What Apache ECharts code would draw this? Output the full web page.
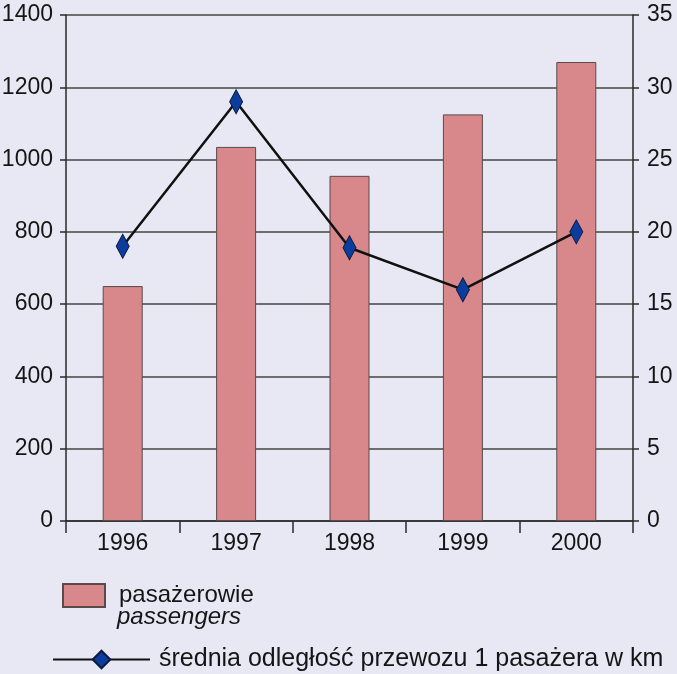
<!DOCTYPE html>
<html>
<head>
<meta charset="utf-8">
<script src="https://cdn.jsdelivr.net/npm/echarts@6/dist/echarts.min.js"></script>
<style>
html,body{margin:0;padding:0;background:#e7e8f4;}
#c{width:677px;height:674px;}
</style>
</head>
<body>
<div id="c"></div>
<script>
var years = ['1996', '1997', '1998', '1999', '2000'];
var passengers = [650, 1035, 955, 1125, 1270];
var avgDistance = [19, 29, 18.9, 16, 20];
var leftTicks = {min: 0, max: 1400, interval: 200};
var rightTicks = {min: 0, max: 35, interval: 5};
var barName = 'pasażerowie';
var barNameEn = 'passengers';
var lineName = 'średnia odległość przewozu 1 pasażera w km';

var FONT = 'Liberation Sans, Arial, sans-serif';
var plain = function (v) { return String(v); };
var chart = echarts.init(document.getElementById('c'), null, {renderer: 'canvas'});
chart.setOption({
  backgroundColor: '#e7e8f4',
  animation: false,
  grid: {left: 66, right: 44, top: 15, bottom: 153, containLabel: false, outerBoundsMode: 'none'},
  xAxis: {
    type: 'category',
    data: years,
    axisLine: {lineStyle: {color: '#2a2a2a', width: 1.5}},
    axisTick: {show: true, length: 12, lineStyle: {color: '#2a2a2a', width: 1.5}},
    axisLabel: {fontFamily: FONT, fontSize: 23, color: '#151515', margin: 11}
  },
  yAxis: [{
    type: 'value',
    min: leftTicks.min, max: leftTicks.max, interval: leftTicks.interval,
    axisLine: {show: true, lineStyle: {color: '#2a2a2a', width: 1.5}},
    axisTick: {show: true, length: 6, lineStyle: {color: '#2a2a2a', width: 1.5}},
    axisLabel: {fontFamily: FONT, fontSize: 23, color: '#151515', margin: 13, formatter: plain},
    splitLine: {show: true, lineStyle: {color: '#444', width: 1.6}}
  }, {
    type: 'value',
    position: 'right',
    min: rightTicks.min, max: rightTicks.max, interval: rightTicks.interval,
    axisLine: {show: true, lineStyle: {color: '#2a2a2a', width: 1.5}},
    axisTick: {show: true, length: 6, lineStyle: {color: '#2a2a2a', width: 1.5}},
    axisLabel: {fontFamily: FONT, fontSize: 23, color: '#151515', margin: 14, formatter: plain},
    splitLine: {show: false}
  }],
  legend: [{
    data: [{name: barName, icon: 'rect'}],
    orient: 'vertical',
    left: 62, top: 583, padding: 0,
    itemWidth: 42, itemHeight: 23,
    textStyle: {fontFamily: FONT, fontSize: 24, color: '#151515', padding: [0, 0, 0, 9]}
  }, {
    data: [lineName],
    orient: 'vertical',
    left: 52, top: 647, padding: 0,
    itemWidth: 97, itemHeight: 22,
    textStyle: {fontFamily: FONT, fontSize: 25, color: '#151515', padding: [0, 0, 0, 4]}
  }],
  graphic: [{
    type: 'text',
    left: 117, top: 605,
    style: {text: barNameEn, fontFamily: FONT, fontSize: 24, fontStyle: 'italic', fill: '#151515'}
  }],
  series: [{
    name: barName,
    type: 'bar',
    data: passengers,
    barWidth: 40,
    yAxisIndex: 0,
    itemStyle: {color: '#d8878a', borderColor: '#5a4a4a', borderWidth: 1}
  }, {
    name: lineName,
    type: 'line',
    data: avgDistance,
    yAxisIndex: 1,
    symbol: 'diamond',
    symbolSize: [13, 24],
    lineStyle: {color: '#111', width: 2.5},
    itemStyle: {color: '#0c3c9c', borderColor: '#0a1a40', borderWidth: 1}
  }]
});
</script>
</body>
</html>
